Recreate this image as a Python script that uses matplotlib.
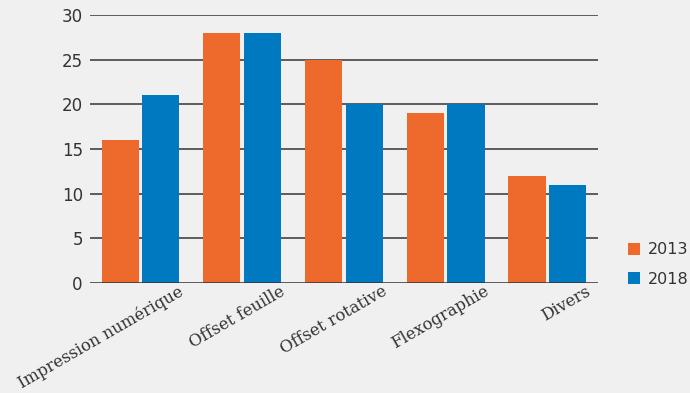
import matplotlib.pyplot as plt
import numpy as np

categories = ["Impression numérique", "Offset feuille", "Offset rotative", "Flexographie", "Divers"]
vals_2013 = [16, 28, 25, 19, 12]
vals_2018 = [21, 28, 20, 20, 11]
yticks = [0, 5, 10, 15, 20, 25, 30]

bg = "#f0f0f0"
c2013 = "#ee6a2c"
c2018 = "#0079c1"

fig = plt.figure(figsize=(6.9, 3.93), dpi=100, facecolor=bg)
ax = fig.add_axes([0.130, 0.280, 0.737, 0.682], facecolor=bg)

x = np.arange(len(categories))
w = 0.365
ax.bar(x - 0.2, vals_2013, w, color=c2013, label="2013", zorder=3)
ax.bar(x + 0.2, vals_2018, w, color=c2018, label="2018", zorder=3)

ax.set_xlim(-0.5, 4.5)
ax.set_ylim(0, 30)
ax.set_yticks(yticks)
for t in yticks:
    ax.axhline(t, color="#333333", lw=1.1, zorder=1 if t else 4)
for s in ax.spines.values():
    s.set_visible(False)
ax.tick_params(axis="y", length=0, pad=5, labelsize=12, labelcolor="#333333")
ax.tick_params(axis="x", length=0, pad=0)
ax.set_xticks(x + 0.37)
ax.set_xticklabels(categories, rotation=30, ha="right", rotation_mode="anchor",
                   family="DejaVu Serif", fontsize=11.8, color="#333333")

ax.legend(loc="lower left", bbox_to_anchor=(1.03, -0.068), frameon=False,
          fontsize=11.5, handlelength=0.75, handleheight=0.75, labelspacing=0.9,
          handletextpad=0.5, labelcolor="#333333")

fig.savefig("out.png", dpi=100, facecolor=bg)
